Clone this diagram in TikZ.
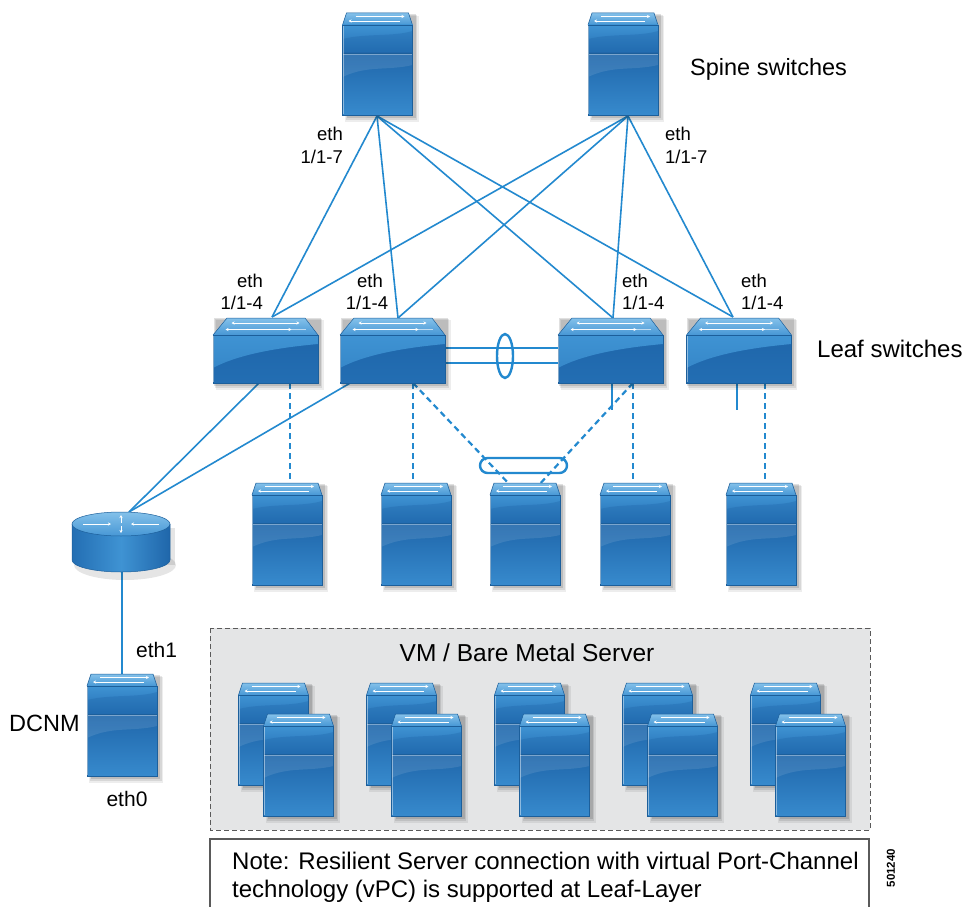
\documentclass[tikz,border=0pt]{standalone}
\usepackage{fontspec}
\setmainfont{Liberation Sans}
\usetikzlibrary{arrows.meta}

\definecolor{devtopA}{HTML}{84C1EA}
\definecolor{devtopB}{HTML}{4797D5}
\definecolor{devfrA}{HTML}{3F93D3}
\definecolor{devfrB}{HTML}{236EB3}
\definecolor{devfrC}{HTML}{1F66AA}
\definecolor{devfrD}{HTML}{378ACD}
\definecolor{devedge}{HTML}{1C5F9B}
\definecolor{linkblue}{HTML}{2389CF}
\definecolor{panelgray}{HTML}{E4E5E6}
\definecolor{framegray}{HTML}{5A5A5A}

\tikzset{
  conn/.style={linkblue, line width=1.6pt},
  dconn/.style={linkblue, line width=2.2pt, dash pattern=on 6pt off 4pt},
  ring/.style={linkblue, line width=2.4pt},
  lbl/.style={inner sep=0pt, font=\fontsize{18.5}{22}\selectfont},
  bigl/.style={inner sep=0pt, font=\fontsize{23.5}{27}\selectfont},
  topArrow/.style={white, line width=0.8pt, -{Stealth[length=3pt,width=3pt]}},
  % tower-shaped device (spine switch / server), origin = top centre of front face
  pics/towerdev/.style={code={
    \fill[black,opacity=0.07] (-33,-9) rectangle (41,97);
    \fill[black,opacity=0.09] (-32,-10) rectangle (39.5,95);
    \fill[black,opacity=0.12] (-31,-11) rectangle (38,93);
    \shade[top color=devtopA, bottom color=devtopB]
      (-35,0) -- (-31,-12) -- (31,-12) -- (35,0) -- cycle;
    \draw[devedge, line width=0.5pt]
      (-35,0) -- (-31,-12) -- (31,-12) -- (35,0);
    \shade[top color=devfrA, bottom color=devfrB] (-35,0) rectangle (35,28);
    \fill[devfrC, opacity=0.35] (-35,14) .. controls (-10,8) and (15,12) .. (35,6)
      -- (35,28) -- (-35,28) -- cycle;
    \shade[top color=devfrC, bottom color=devfrD] (-35,28) rectangle (35,90);
    \fill[white, opacity=0.10] (-35,28) -- (35,28) -- (35,40) .. controls (10,46) and (-10,40) .. (-35,52) -- cycle;
    \draw[devedge, line width=0.6pt] (-35,0) rectangle (35,90);
    \draw[devedge, line width=0.9pt] (-35,28) -- (35,28);
    \draw[white, opacity=0.35, line width=0.7pt] (-34.5,29.3) -- (34.5,29.3);
    \draw[white, opacity=0.45, line width=0.6pt] (-34.4,0.6) -- (-34.4,89.4);
    \draw[topArrow] (-22,-8.5) -- (27,-8.5);
    \draw[topArrow] (22,-4) -- (-29,-4);
    \coordinate (-c) at (0,0);
  }},
  % layer-2 leaf switch, origin = top centre of front face
  pics/leafdev/.style={code={
    \fill[black,opacity=0.07] (-50,-15) rectangle (58,55);
    \fill[black,opacity=0.09] (-51,-16) rectangle (56.5,53);
    \fill[black,opacity=0.12] (-52,-17) rectangle (55,51);
    \shade[top color=devtopA, bottom color=devtopB]
      (-52.5,0) -- (-38.5,-17) -- (39.5,-17) -- (52.5,0) -- cycle;
    \draw[devedge, line width=0.5pt]
      (-52.5,0) -- (-38.5,-17) -- (39.5,-17) -- (52.5,0);
    \shade[top color=devfrC, bottom color=devfrB] (-52.5,0) rectangle (52.5,48);
    \shade[top color=devfrA, bottom color=devfrA!70!devfrB]
      (-52.5,0) -- (52.5,0) -- (52.5,9) .. controls (20,12) and (-25,18) .. (-52.5,33) -- cycle;
    \draw[devedge, line width=0.6pt] (-52.5,0) rectangle (52.5,48);
    \draw[white, opacity=0.45, line width=0.6pt] (-52,0.6) -- (-52,47.4);
    \draw[white, line width=0.8pt, {Stealth[length=3pt,width=3pt]}-{Stealth[length=3pt,width=3pt]}]
      (-34,-12) -- (34,-12);
    \draw[white, line width=0.8pt, {Stealth[length=3pt,width=3pt]}-{Stealth[length=3pt,width=3pt]}]
      (-40,-5.5) -- (26,-5.5);
    \draw[white, opacity=0.6, line width=0.6pt] (0,-5.5) -- (40,-5.5);
    \coordinate (-c) at (0,0);
  }},
  % router cylinder, origin = centre of top ellipse
  pics/routerdev/.style={code={
    \fill[black,opacity=0.10] (4,41) ellipse[x radius=51pt, y radius=15pt];
    \fill[black,opacity=0.10] (-46,4) rectangle (54,41);
    \shade[left color=devfrB, right color=devfrC, middle color=devfrA]
      (-49,0) -- (-49,36) arc[start angle=180, end angle=360, x radius=49pt, y radius=12pt]
      -- (49,0) -- cycle;
    \draw[devedge, line width=0.5pt]
      (-49,0) -- (-49,36) arc[start angle=180, end angle=360, x radius=49pt, y radius=12pt]
      -- (49,0);
    \shade[top color=devtopA, bottom color=devtopB, draw=devedge, line width=0.5pt]
      (0,0) ellipse[x radius=49pt, y radius=12pt];
    \draw[topArrow] (-38,0) -- (-10,0);
    \draw[topArrow] (38,0) -- (10,0);
    \draw[topArrow] (0,-1.5) -- (0,-9);
    \draw[topArrow] (0,1.5) -- (0,9);
    \coordinate (-c) at (0,0);
  }}
}

\begin{document}
\begin{tikzpicture}[x=1pt, y=-1pt]
\useasboundingbox (0,0) rectangle (964,907);
\fill[white] (0,0) rectangle (964,907);

% ---------- connection end points ----------
\coordinate (sp1b) at (377,116);
\coordinate (sp2b) at (628,116);
\coordinate (l1t) at (272,317);
\coordinate (l2t) at (398,318);
\coordinate (l3t) at (613,318);
\coordinate (l4t) at (733,317);
\coordinate (l1r) at (260,382);
\coordinate (l2r) at (352,382);
\coordinate (rtt) at (129,512);
\coordinate (rtb) at (122,570);
\coordinate (dct) at (122,674);
\coordinate (l1d) at (290,383);
\coordinate (l2d) at (413,383);
\coordinate (l3d) at (633,383);
\coordinate (l4d) at (765,383);
\coordinate (s1t) at (290,487);
\coordinate (s2t) at (413,487);
\coordinate (s3l) at (512,487);
\coordinate (s3r) at (537,487);
\coordinate (s4t) at (633,487);
\coordinate (s5t) at (765,487);
\coordinate (l3s) at (612,383);
\coordinate (l3e) at (612,410);
\coordinate (l4s) at (737,383);
\coordinate (l4e) at (737,410);
\coordinate (pA1) at (445,348);
\coordinate (pB1) at (558,348);
\coordinate (pA2) at (445,363);
\coordinate (pB2) at (558,363);

% ---------- spine to leaf fabric ----------
\foreach \l in {l1t,l2t,l3t,l4t}{
  \draw[conn] (sp1b) -- (\l);
  \draw[conn] (sp2b) -- (\l);
}

% ---------- leaf to router, router to DCNM ----------
\draw[conn] (l1r) -- (rtt);
\draw[conn] (l2r) -- (rtt);
\draw[conn] (rtb) -- (dct);

% ---------- leaf to server links ----------
\draw[dconn] (l1d) -- (s1t);
\draw[dconn] (l2d) -- (s2t);
\draw[dconn] (l2d) -- (s3l);
\draw[dconn] (l3d) -- (s3r);
\draw[dconn] (l3d) -- (s4t);
\draw[dconn] (l4d) -- (s5t);
\draw[conn] (l3s) -- (l3e);
\draw[conn] (l4s) -- (l4e);

% ---------- vPC peer link and port-channel rings ----------
\draw[conn] (pA1) -- (pB1);
\draw[conn] (pA2) -- (pB2);
\draw[ring] (505,356) ellipse[x radius=8pt, y radius=22pt];
\draw[ring, rounded corners=7.5pt] (480,458) rectangle (567,473);

% ---------- VM / bare metal panel ----------
\draw[framegray, fill=panelgray, line width=1pt, dash pattern=on 5pt off 3pt]
  (210,628) rectangle (870,830);
\node[inner sep=0pt, font=\fontsize{24.5}{28}\selectfont, anchor=base] (vmtitle) at (527,661) {VM / Bare Metal Server};
\foreach \i in {0,...,4}{
  \pic (vmb\i) at (273.5+128*\i,695) {towerdev};
  \pic (vmf\i) at (298.5+128*\i,726) {towerdev};
}

% ---------- devices ----------
\pic (sp1) at (377.5,25) {towerdev};
\pic (sp2) at (623,25) {towerdev};
\pic (lf1) at (265.5,335) {leafdev};
\pic (lf2) at (392.5,335) {leafdev};
\pic (lf3) at (610.5,335) {leafdev};
\pic (lf4) at (739,335) {leafdev};
\pic (srv1) at (287,495) {towerdev};
\pic (srv2) at (416,495) {towerdev};
\pic (srv3) at (525,495) {towerdev};
\pic (srv4) at (635,495) {towerdev};
\pic (srv5) at (761,495) {towerdev};
\pic (rtr) at (121,524) {routerdev};
\pic (dcnm) at (122,686) {towerdev};

% ---------- labels ----------
\node[bigl, anchor=base west] (spinelbl) at (690,75) {Spine switches};
\node[inner sep=0pt, font=\fontsize{24}{28}\selectfont, anchor=base west] (leaflbl) at (817,357) {Leaf switches};

\node[lbl, anchor=base east] (sp1a) at (343,140) {eth};
\node[lbl, anchor=base east] (sp1p) at (343,163) {1/1-7};
\node[lbl, anchor=base west] (sp2a) at (665,140) {eth};
\node[lbl, anchor=base west] (sp2p) at (665,163) {1/1-7};

\node[lbl, anchor=base east] (lf1a) at (263,287) {eth};
\node[lbl, anchor=base east] (lf1p) at (263,309) {1/1-4};
\node[lbl, anchor=base] (lf2a) at (370,287) {eth};
\node[lbl, anchor=base] (lf2p) at (367,309) {1/1-4};
\node[lbl, anchor=base west] (lf3a) at (622,287) {eth};
\node[lbl, anchor=base west] (lf3p) at (622,309) {1/1-4};
\node[lbl, anchor=base west] (lf4a) at (741,287) {eth};
\node[lbl, anchor=base west] (lf4p) at (741,309) {1/1-4};

\node[bigl, anchor=base west] (dcnmlbl) at (9,731) {DCNM};
\node[inner sep=0pt, font=\fontsize{21}{25}\selectfont, anchor=base west] (eth1lbl) at (136,657) {eth1};
\node[inner sep=0pt, font=\fontsize{21}{25}\selectfont, anchor=base] (eth0lbl) at (127,806) {eth0};

% ---------- note ----------
\draw[framegray, line width=1.3pt] (210,907) -- (210,839) -- (869,839) -- (869,907);
\node[inner sep=0pt, font=\fontsize{24}{28}\selectfont, anchor=base west] (note1) at (232,869)
  {Note: Resilient Server connection with virtual Port-Channel};
\node[inner sep=0pt, font=\fontsize{24}{28}\selectfont, anchor=base west] (note2) at (232,897)
  {technology (vPC) is supported at Leaf-Layer};
\node[inner sep=0pt, rotate=90, font=\bfseries\fontsize{11.5}{13}\selectfont] (figid) at (891,868) {501240};
\end{tikzpicture}
\end{document}
